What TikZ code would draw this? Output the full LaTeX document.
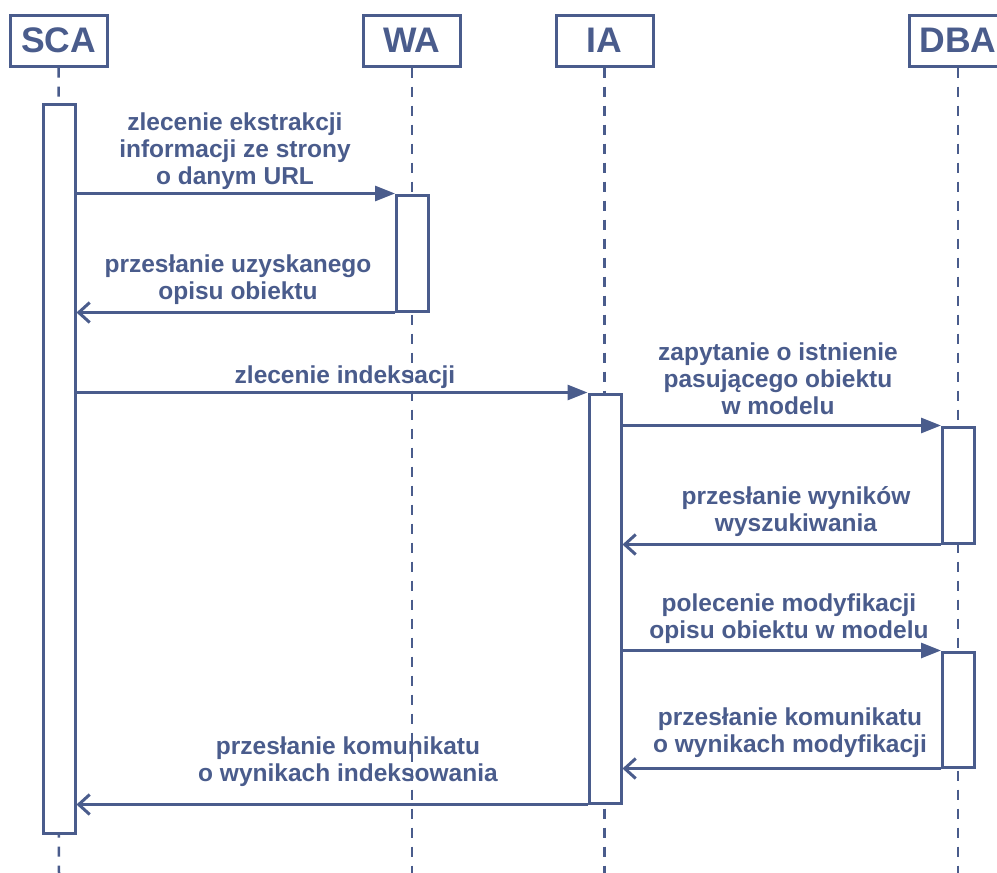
\documentclass[tikz,border=0pt]{standalone}
\usepackage{fontspec}
\setmainfont{Liberation Sans}
\usetikzlibrary{arrows.meta}
\definecolor{seqblue}{HTML}{4A5C8C}
\begin{document}
\begin{tikzpicture}[x=1pt,y=-1pt,
  head/.style={draw=seqblue, line width=3pt, fill=white, minimum width=97pt,
    minimum height=51pt, inner sep=0pt, text=seqblue,
    font=\fontsize{35.5}{40}\selectfont\bfseries},
  lifeline/.style={draw=seqblue, line width=2.5pt, dash pattern=on 10pt off 9pt},
  bar/.style={draw=seqblue, line width=3pt, fill=white, minimum width=32pt, inner sep=0pt},
  msg/.style={draw=seqblue, line width=3pt, -{Triangle[length=20pt,width=15pt]}},
  reply/.style={draw=seqblue, line width=3pt, -{Straight Barb[length=11pt,width=20pt]}},
  lbl/.style={text=seqblue, font=\fontsize{24.5}{27}\selectfont\bfseries, align=center, inner sep=0pt}]
\useasboundingbox (0,0) rectangle (997,873);
\clip (0,0) rectangle (997,873);

% lifeline heads
\node[head] (sca) at (58.5,40.5) {SCA};
\node[head] (wa)  at (412,40.5) {WA};
\node[head] (ia)  at (604.5,40.5) {IA};
\node[head] (dba) at (958,40.5) {DBA};

% lifelines
\coordinate (scaE) at (59,873);
\coordinate (waE)  at (412,873);
\coordinate (iaE)  at (604.5,873);
\coordinate (dbaE) at (958,873);
\draw[lifeline] (sca.south) -- (scaE);
\draw[lifeline] (wa.south) -- (waE);
\draw[lifeline] (ia.south) -- (iaE);
\draw[lifeline] (dba.south) -- (dbaE);

% activation bars
\node[bar, minimum height=729pt] (scaB) at (59,468.5) {};
\node[bar, minimum height=116pt] (waB)  at (412.5,253) {};
\node[bar, minimum height=409pt] (iaB)  at (605,598.5) {};
\node[bar, minimum height=116pt] (dbaB1) at (958.5,485) {};
\node[bar, minimum height=115pt] (dbaB2) at (958.5,709.5) {};

% messages
\draw[msg]   (scaB.east |- waB.north)  -- (waB.north west);
\draw[reply] (waB.south west) -- (scaB.east |- waB.south);
\draw[msg]   (scaB.east |- iaB.north)  -- (iaB.north west);
\draw[msg]   (iaB.east |- dbaB1.north) -- (dbaB1.north west);
\draw[reply] (dbaB1.south west) -- (iaB.east |- dbaB1.south);
\draw[msg]   (iaB.east |- dbaB2.north) -- (dbaB2.north west);
\draw[reply] (dbaB2.south west) -- (iaB.east |- dbaB2.south);
\draw[reply] (iaB.south west) -- (scaB.east |- iaB.south);

% message labels
\node[lbl] (l1) at (235,151) {zlecenie ekstrakcji\\informacji ze strony\\o danym URL};
\node[lbl] (l2) at (238,279.5) {przesłanie uzyskanego\\opisu obiektu};
\node[lbl] (l3) at (345,377) {zlecenie indeksacji};
\node[lbl] (l4) at (778,379) {zapytanie o istnienie\\pasującego obiektu\\w modelu};
\node[lbl] (l5) at (796,512) {przesłanie wyników\\wyszukiwania};
\node[lbl] (l6) at (789,618.5) {polecenie modyfikacji\\opisu obiektu w modelu};
\node[lbl] (l7) at (790,732.5) {przesłanie komunikatu\\o wynikach modyfikacji};
\node[lbl] (l8) at (348,762) {przesłanie komunikatu\\o wynikach indeksowania};
\end{tikzpicture}
\end{document}
